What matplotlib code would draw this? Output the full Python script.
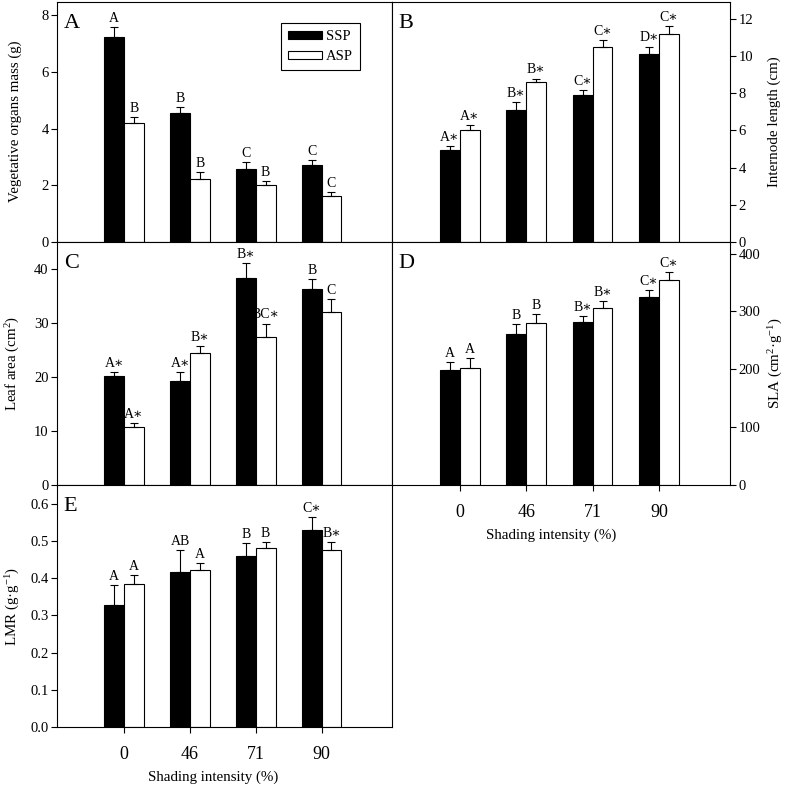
import numpy as np
import matplotlib
matplotlib.use("Agg")
import matplotlib.pyplot as plt

plt.rcParams["font.family"] = ["Liberation Serif", "DejaVu Serif"]
plt.rcParams["mathtext.fontset"] = "custom"
plt.rcParams["mathtext.rm"] = "Liberation Serif"
plt.rcParams["mathtext.default"] = "regular"

# shading levels (%)
categories = ["0", "46", "71", "90"]

# A: vegetative organs mass (g)
mass_ssp = [7.22, 4.56, 2.59, 2.73]
mass_ssp_err = [0.37, 0.19, 0.22, 0.15]
mass_asp = [4.21, 2.22, 2.01, 1.63]
mass_asp_err = [0.18, 0.24, 0.15, 0.12]
mass_ssp_lab = ["A", "B", "C", "C"]
mass_asp_lab = ["B", "B", "B", "C"]

# B: internode length (cm)
inter_ssp = [4.94, 7.11, 7.93, 10.10]
inter_ssp_err = [0.24, 0.41, 0.26, 0.41]
inter_asp = [6.04, 8.58, 10.48, 11.19]
inter_asp_err = [0.23, 0.21, 0.36, 0.40]
inter_ssp_lab = ["A∗", "B∗", "C∗", "D∗"]
inter_asp_lab = ["A∗", "B∗", "C∗", "C∗"]

# C: leaf area (cm2)
leaf_ssp = [20.1, 19.2, 38.3, 36.3]
leaf_ssp_err = [0.8, 1.7, 2.8, 1.8]
leaf_asp = [10.8, 24.4, 27.5, 32.1]
leaf_asp_err = [0.6, 1.3, 2.4, 2.4]
leaf_ssp_lab = ["A∗", "A∗", "B∗", "B"]
leaf_asp_lab = ["A∗", "B∗", "BC∗", "C"]

# D: SLA (cm2 g-1)
sla_ssp = [198, 261, 281, 325]
sla_ssp_err = [14, 17, 11, 12]
sla_asp = [202, 280, 306, 355]
sla_asp_err = [17, 16, 12, 13]
sla_ssp_lab = ["A", "B", "B∗", "C∗"]
sla_asp_lab = ["A", "B", "B∗", "C∗"]

# E: LMR (g g-1)
lmr_ssp = [0.329, 0.415, 0.458, 0.529]
lmr_ssp_err = [0.053, 0.060, 0.035, 0.034]
lmr_asp = [0.385, 0.421, 0.481, 0.476]
lmr_asp_err = [0.022, 0.020, 0.016, 0.021]
lmr_ssp_lab = ["A", "AB", "B", "C∗"]
lmr_asp_lab = ["A", "A", "B", "B∗"]

W = 0.3


def draw_panel(ax, ssp, ssp_err, asp, asp_err, ssp_lab, asp_lab, letter):
    x = np.arange(len(categories))
    ekw = dict(elinewidth=0.8, capthick=0.8, ecolor="black")
    ax.bar(x - W / 2, ssp, W, color="black", edgecolor="black", linewidth=0.8,
           yerr=[np.zeros(len(ssp)), ssp_err], capsize=3, error_kw=ekw, label="SSP")
    ax.bar(x + W / 2, asp, W, color="white", edgecolor="black", linewidth=0.8,
           yerr=[np.zeros(len(asp)), asp_err], capsize=3, error_kw=ekw, label="ASP")
    for xs, vals, errs, labs in [(x - W / 2, ssp, ssp_err, ssp_lab),
                                 (x + W / 2, asp, asp_err, asp_lab)]:
        for xi, v, e, t in zip(xs, vals, errs, labs):
            ax.annotate(t, (xi, v + e), xytext=(0, 1.5), textcoords="offset points",
                        ha="center", va="bottom", fontsize=10)
    ax.set_xlim(-1.02, 4.07)
    ax.text(0.02, 0.91, letter, transform=ax.transAxes, fontsize=16,
            ha="left", va="center")
    for s in ax.spines.values():
        s.set_linewidth(0.8)
    ax.tick_params(axis="y", direction="out", length=4, width=0.8, pad=2, labelsize=10.5)
    ax.set_xticks(x)
    ax.set_xticklabels(categories)
    ax.tick_params(axis="x", direction="out", length=4, width=0.8, pad=10, labelsize=13)


fig = plt.figure(figsize=(7.87, 7.87), dpi=100)
L, M, R = 57 / 787, 392 / 787, 730 / 787
rows = [(1 - 242 / 787, 240.5 / 787), (1 - 485 / 787, 243 / 787), (1 - 727 / 787, 242 / 787)]

axA = fig.add_axes([L, rows[0][0], M - L, rows[0][1]])
axB = fig.add_axes([M, rows[0][0], R - M, rows[0][1]])
axC = fig.add_axes([L, rows[1][0], M - L, rows[1][1]])
axD = fig.add_axes([M, rows[1][0], R - M, rows[1][1]])
axE = fig.add_axes([L, rows[2][0], M - L, rows[2][1]])

YLS = 10.8

draw_panel(axA, mass_ssp, mass_ssp_err, mass_asp, mass_asp_err, mass_ssp_lab, mass_asp_lab, "A")
axA.set_ylim(0, 8.48)
axA.set_yticks([0, 2, 4, 6, 8])
axA.set_ylabel("Vegetative organs mass (g)", fontsize=YLS)
axA.yaxis.set_label_coords(-0.105, 0.5)
axA.legend(loc="upper right", bbox_to_anchor=(0.905, 0.91), borderaxespad=0,
           fancybox=False, edgecolor="black", framealpha=1, fontsize=10.5,
           handlelength=2.3, handleheight=0.45, handletextpad=0.3,
           labelspacing=0.45, borderpad=0.5).get_frame().set_linewidth(0.8)

draw_panel(axB, inter_ssp, inter_ssp_err, inter_asp, inter_asp_err, inter_ssp_lab, inter_asp_lab, "B")
axB.set_ylim(0, 12.93)
axB.set_yticks([0, 2, 4, 6, 8, 10, 12])
axB.yaxis.tick_right()
axB.yaxis.set_label_position("right")
axB.set_ylabel("Internode length (cm)", fontsize=YLS)
axB.yaxis.set_label_coords(1.11, 0.5)

draw_panel(axC, leaf_ssp, leaf_ssp_err, leaf_asp, leaf_asp_err, leaf_ssp_lab, leaf_asp_lab, "C")
axC.set_ylim(0, 45)
axC.set_yticks([0, 10, 20, 30, 40])
axC.set_ylabel("Leaf area (cm$^2$)", fontsize=YLS)
axC.yaxis.set_label_coords(-0.105, 0.5)

draw_panel(axD, sla_ssp, sla_ssp_err, sla_asp, sla_asp_err, sla_ssp_lab, sla_asp_lab, "D")
axD.set_ylim(0, 420)
axD.set_yticks([0, 100, 200, 300, 400])
axD.yaxis.tick_right()
axD.yaxis.set_label_position("right")
axD.set_ylabel("SLA (cm$^{2}$·g$^{-1}$)", fontsize=YLS)
axD.yaxis.set_label_coords(1.11, 0.5)
axD.set_xlabel("Shading intensity (%)", fontsize=YLS)
axD.xaxis.set_label_coords(0.47, -0.18)

draw_panel(axE, lmr_ssp, lmr_ssp_err, lmr_asp, lmr_asp_err, lmr_ssp_lab, lmr_asp_lab, "E")
axE.set_ylim(0, 0.65)
axE.set_yticks([0.0, 0.1, 0.2, 0.3, 0.4, 0.5, 0.6])
axE.set_yticklabels(["0.0", "0.1", "0.2", "0.3", "0.4", "0.5", "0.6"])
axE.set_ylabel("LMR (g·g$^{-1}$)", fontsize=YLS)
axE.yaxis.set_label_coords(-0.105, 0.5)
axE.set_xlabel("Shading intensity (%)", fontsize=YLS)
axE.xaxis.set_label_coords(0.466, -0.18)

for ax in (axA, axB, axC):
    ax.tick_params(axis="x", bottom=False, labelbottom=False)

fig.savefig("out.png", dpi=100)
